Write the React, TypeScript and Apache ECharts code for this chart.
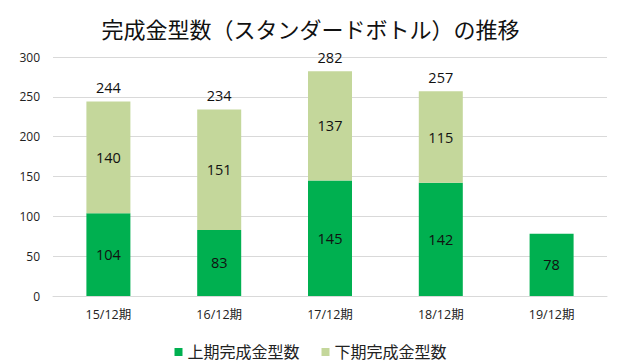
import React, { useEffect, useRef } from "react";
import * as echarts from "echarts";

const categories = ["15/12期", "16/12期", "17/12期", "18/12期", "19/12期"];
const firstHalf = [104, 83, 145, 142, 78];
const secondHalf: (number | null)[] = [140, 151, 137, 115, null];
const totals: (number | null)[] = [244, 234, 282, 257, null];
const yTicks = { min: 0, max: 300, interval: 50 };

const FONT = "'Open Sans', 'Noto Sans CJK JP', sans-serif";

export default function App() {
  const ref = useRef<HTMLDivElement>(null);
  useEffect(() => {
    document.body.style.margin = "0";
    const chart = echarts.init(ref.current!, null, { renderer: "svg" });
    chart.setOption({
      animation: false,
      textStyle: { fontFamily: FONT },
      title: {
        text: "完成金型数（スタンダードボトル）の推移",
        left: "center",
        top: 13,
        textStyle: { fontSize: 22, fontWeight: "normal", color: "#111", fontFamily: FONT },
      },
      legend: {
        data: ["上期完成金型数", "下期完成金型数"],
        top: 339,
        left: "center",
        itemWidth: 8,
        itemHeight: 8,
        itemGap: 22,
        icon: "rect",
        textStyle: { fontSize: 16, color: "#222", fontFamily: FONT },
      },
      grid: { left: 53, right: 14, top: 57, bottom: 66 },
      xAxis: {
        type: "category",
        data: categories,
        axisTick: { show: false },
        axisLine: { lineStyle: { color: "#d9d9d9" } },
        axisLabel: { fontSize: 12.5, color: "#222", margin: 12, fontFamily: FONT },
      },
      yAxis: {
        type: "value",
        min: yTicks.min,
        max: yTicks.max,
        interval: yTicks.interval,
        axisLine: { show: false },
        axisTick: { show: false },
        splitLine: { lineStyle: { color: "#d9d9d9" } },
        axisLabel: { fontSize: 12, color: "#222", margin: 13, fontFamily: FONT },
      },
      series: [
        {
          name: "上期完成金型数",
          type: "bar",
          stack: "a",
          data: firstHalf,
          barWidth: 44,
          itemStyle: { color: "#00b050" },
          label: { show: true, position: "inside", fontSize: 14.5, color: "#111", fontFamily: FONT },
        },
        {
          name: "下期完成金型数",
          type: "bar",
          stack: "a",
          data: secondHalf,
          itemStyle: { color: "#c4d79b" },
          label: { show: true, position: "inside", fontSize: 14.5, color: "#111", fontFamily: FONT },
        },
        {
          name: "合計",
          type: "bar",
          stack: "a",
          data: totals.map((t) => (t == null ? null : 0)),
          itemStyle: { color: "transparent" },
          label: {
            show: true,
            position: "top",
            distance: 7,
            fontSize: 14.5,
            color: "#111",
            fontFamily: FONT,
            formatter: (p: any) => String(totals[p.dataIndex] ?? ""),
          },
        },
      ],
    });
    return () => chart.dispose();
  }, []);
  return <div ref={ref} style={{ width: 621, height: 362 }} />;
}
